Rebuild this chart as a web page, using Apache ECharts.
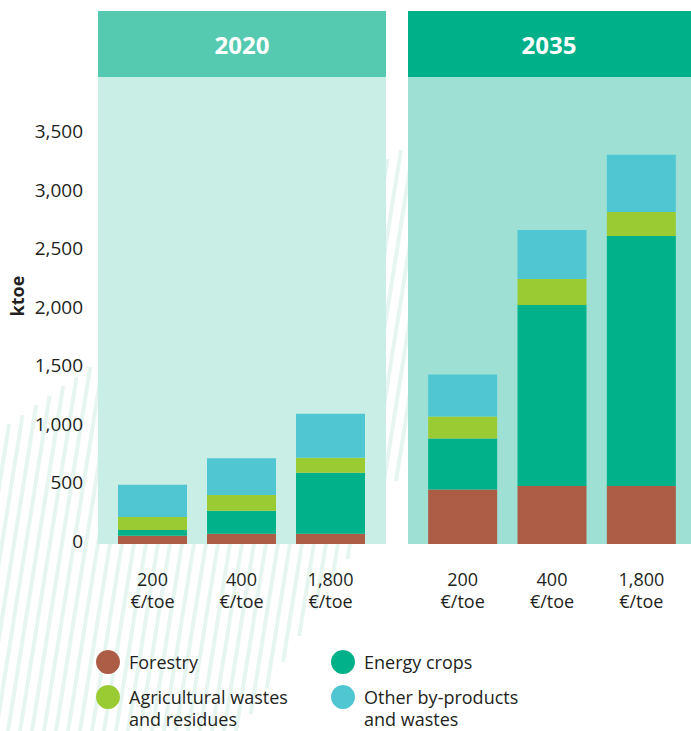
<!DOCTYPE html>
<html>
<head>
<meta charset="utf-8">
<script src="https://cdn.jsdelivr.net/npm/echarts@6/dist/echarts.min.js"></script>
<style>
html,body{margin:0;padding:0;background:#fff;}
#main{width:691px;height:731px;}
</style>
</head>
<body>
<div id="main"></div>
<script>
// ---- data ----
const categories = ['200', '400', '1,800'];
const unitLabel = '€/toe';
const years = ['2020', '2035'];
const seriesNames = ['Forestry', 'Energy crops', 'Agricultural wastes and residues', 'Other by-products and wastes'];
const forestry2020 = [70, 88, 88];
const energy2020 = [50, 195, 520];
const agri2020 = [110, 135, 128];
const other2020 = [275, 315, 375];
const forestry2035 = [465, 495, 495];
const energy2035 = [435, 1545, 2135];
const agri2035 = [188, 222, 205];
const other2035 = [358, 418, 487];
const yMin = 0, yMax = 3500, yInterval = 500;
const axisTitle = 'ktoe';

// ---- styles ----
const colors = {
  'Forestry': '#AD5D45',
  'Energy crops': '#00B189',
  'Agricultural wastes and residues': '#9BCB33',
  'Other by-products and wastes': '#50C6D3'
};
const FONT = '"Open Sans", "Noto Sans", sans-serif';
const TXT = '#231F20';

const chart = echarts.init(document.getElementById('main'), null, {renderer: 'svg'});

// decorative stripes
const stripes = [];
for (let x0 = -40; x0 <= 470; x0 += 12) {
  const k = 0.16;
  const topFn = (x) => 430 - 0.7 * x;
  const botFn = (x) => 640 - 1.6 * (x - 297);
  let yt = 731, yb = 731;
  for (let y = 731; y >= 0; y--) {
    const x = x0 + k * (731 - y);
    if (y < topFn(x)) { yt = y + 1; break; }
  }
  for (let y = 731; y >= 0; y--) {
    const x = x0 + k * (731 - y);
    if (y <= botFn(x)) { yb = y; break; }
  }
  if (yb > yt) {
    stripes.push({
      type: 'line', z: -10, silent: true,
      shape: {x1: x0 + k * (731 - yb), y1: yb, x2: x0 + k * (731 - yt), y2: yt},
      style: {stroke: '#E7F5F0', lineWidth: 4}
    });
  }
}

function bar(name, data, idx) {
  return {
    name: name, type: 'bar', stack: 's' + idx,
    xAxisIndex: idx, yAxisIndex: idx,
    barWidth: 69, data: data,
    itemStyle: {color: colors[name]},
    emphasis: {disabled: true}
  };
}

function xAxis(idx) {
  return {
    type: 'category', gridIndex: idx, data: categories,
    axisLine: {show: false}, axisTick: {show: false},
    axisLabel: {
      formatter: (v) => v + '\n' + unitLabel,
      fontSize: 18, lineHeight: 22, color: TXT, fontFamily: FONT, margin: 24
    }
  };
}
function yAxis(idx) {
  return {
    type: 'value', gridIndex: idx, min: yMin, max: yMax, interval: yInterval,
    splitLine: {show: false}, axisLine: {show: false}, axisTick: {show: false},
    axisLabel: {
      show: idx === 0, fontSize: 19, color: TXT, fontFamily: FONT, margin: 25,
      verticalAlign: 'bottom', lineHeight: 6,
      formatter: (v) => v.toLocaleString('en-US')
    }
  };
}

function legend(name, left, top, multi) {
  return {
    data: [name], left: left, top: top, padding: 0, orient: 'vertical',
    icon: 'circle', itemWidth: 24, itemHeight: 24, selectedMode: false,
    formatter: (n) => multi ? '\n' + n.replace(' and ', '\nand ') : n,
    textStyle: {
      fontSize: 18, color: TXT, fontFamily: FONT, lineHeight: 22,
      padding: [0, 0, 0, 4]
    }
  };
}

const option = {
  backgroundColor: '#ffffff',
  animation: false,
  grid: [
    {left: 108, right: 316, top: 134, bottom: 187},
    {left: 418, right: 5, top: 134, bottom: 187}
  ],
  xAxis: [xAxis(0), xAxis(1)],
  yAxis: [yAxis(0), yAxis(1)],
  legend: [
    legend(seriesNames[0], 96, 650, false),
    legend(seriesNames[1], 331, 650, false),
    legend(seriesNames[2], 96, 664, true),
    legend(seriesNames[3], 331, 664, true)
  ],
  graphic: {
    elements: stripes.concat([
      {type: 'rect', z: -5, silent: true, shape: {x: 98, y: 77, width: 288, height: 467}, style: {fill: '#C9EEE6'}},
      {type: 'rect', z: -5, silent: true, shape: {x: 408, y: 77, width: 283, height: 467}, style: {fill: '#9EE1D4'}},
      {type: 'rect', z: -5, silent: true, shape: {x: 98, y: 11, width: 288, height: 66}, style: {fill: '#55CAB0'}},
      {type: 'rect', z: -5, silent: true, shape: {x: 408, y: 11, width: 283, height: 66}, style: {fill: '#00B089'}},
      {type: 'text', z: 5, silent: true, x: 242, y: 44, style: {text: years[0], fill: '#fff', font: 'bold 24px ' + FONT, align: 'center', verticalAlign: 'middle'}},
      {type: 'text', z: 5, silent: true, x: 549, y: 44, style: {text: years[1], fill: '#fff', font: 'bold 24px ' + FONT, align: 'center', verticalAlign: 'middle'}},
      {type: 'text', z: 5, silent: true, x: 17, y: 296, rotation: Math.PI / 2, style: {text: axisTitle, fill: TXT, font: 'bold 18px ' + FONT, align: 'center', verticalAlign: 'middle'}}
    ])
  },
  series: [
    bar(seriesNames[0], forestry2020, 0),
    bar(seriesNames[1], energy2020, 0),
    bar(seriesNames[2], agri2020, 0),
    bar(seriesNames[3], other2020, 0),
    bar(seriesNames[0], forestry2035, 1),
    bar(seriesNames[1], energy2035, 1),
    bar(seriesNames[2], agri2035, 1),
    bar(seriesNames[3], other2035, 1)
  ]
};
chart.setOption(option);
</script>
</body>
</html>
